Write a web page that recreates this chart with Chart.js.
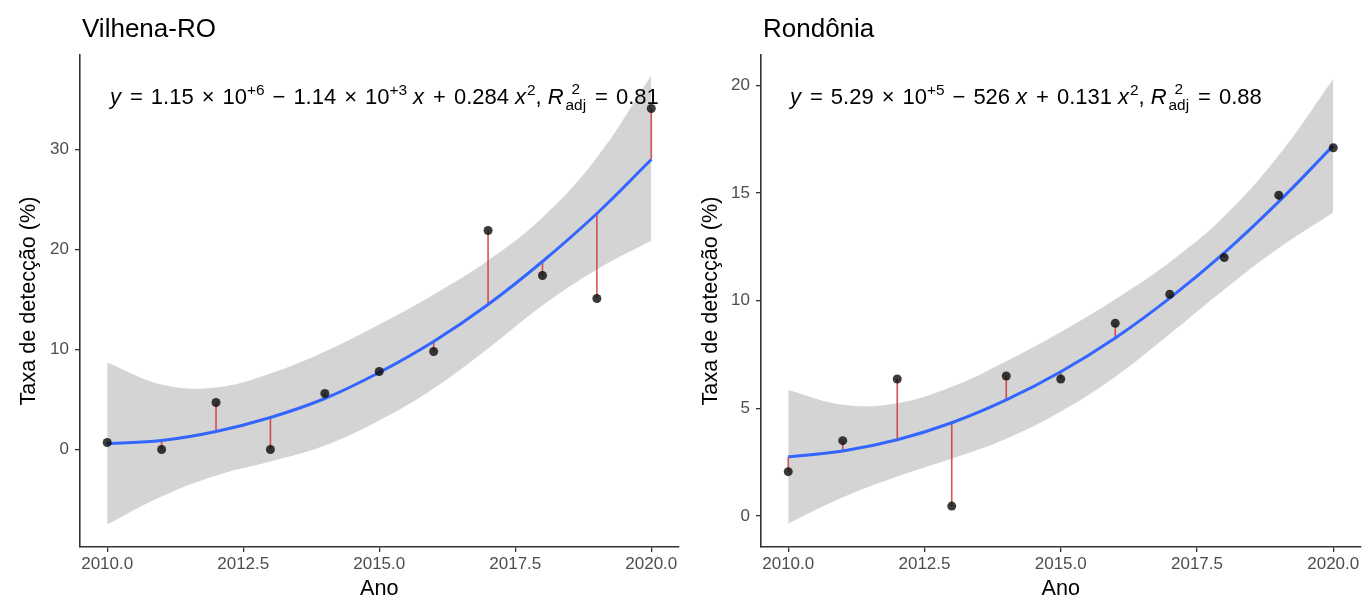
<!DOCTYPE html>
<html>
<head>
<meta charset="utf-8">
<script src="https://cdn.jsdelivr.net/npm/chart.js@4.4.1/dist/chart.umd.min.js"></script>
<style>
    html, body { margin: 0; padding: 0; background: #fff; }
    #wrap { position: relative; width: 1365px; height: 599px; }
    canvas { position: absolute; top: 0; }
</style>
</head>
<body>
<div id="wrap">
    <canvas id="vilhenaChart" width="683" height="599" style="left:0"></canvas>
    <canvas id="rondoniaChart" width="682" height="599" style="left:683px"></canvas>
</div>
<script>
// Dados
const anos = [2010, 2011, 2012, 2013, 2014, 2015, 2016, 2017, 2018, 2019, 2020];
const xTicks = [2010, 2012.5, 2015, 2017.5, 2020];

// Vilhena-RO
const vilhenaTaxa = [0.7, 0.0, 4.7, 0.0, 5.6, 7.8, 9.8, 21.9, 17.4, 15.1, 34.1];
const vilhenaAjuste = [0.6, 0.9, 1.8, 3.2, 5.1, 7.7, 10.8, 14.5, 18.8, 23.6, 29.0];
const vilhenaIcSup = [8.7, 6.5, 6.2, 7.6, 9.8, 12.5, 15.5, 18.9, 23.2, 29.2, 37.4];
const vilhenaIcInf = [-7.5, -4.7, -2.6, -1.2, 0.4, 2.9, 6.1, 10.1, 14.4, 18.0, 20.9];
const vilhenaYTicks = [0, 10, 20, 30];

// Rondônia
const rondoniaTaxa = [2.06, 3.5, 6.36, 0.46, 6.5, 6.36, 8.95, 10.3, 12.0, 14.9, 17.1];
const rondoniaAjuste = [2.75, 3.02, 3.54, 4.33, 5.39, 6.70, 8.27, 10.12, 12.22, 14.6, 17.2];
const rondoniaIcSup = [5.85, 5.17, 5.24, 6.0, 7.19, 8.55, 10.07, 11.79, 13.92, 16.75, 20.3];
const rondoniaIcInf = [-0.35, 0.87, 1.84, 2.66, 3.59, 4.85, 6.47, 8.45, 10.52, 12.45, 14.1];
const rondoniaYTicks = [0, 5, 10, 15, 20];

// Equações (texto)
const G = { gap: 8 };
const S = { gap: 6 };
const vilhenaEq = [
    { t: 'y', it: true }, G, { t: '=' }, G, { t: '1.15' }, G, { t: '×' }, G, { t: '10' }, { t: '+6', sup: true }, G,
    { t: '−' }, G, { t: '1.14' }, G, { t: '×' }, G, { t: '10' }, { t: '+3', sup: true }, S, { t: 'x', it: true }, G,
    { t: '+' }, G, { t: '0.284' }, S, { t: 'x', it: true }, { t: '2', sup: true }, { t: ',' }, S,
    { t: 'R', it: true }, { pilha: ['2', 'adj'] }, G, { t: '=' }, G, { t: '0.81' }
];
const rondoniaEq = [
    { t: 'y', it: true }, G, { t: '=' }, G, { t: '5.29' }, G, { t: '×' }, G, { t: '10' }, { t: '+5', sup: true }, G,
    { t: '−' }, G, { t: '526' }, S, { t: 'x', it: true }, G,
    { t: '+' }, G, { t: '0.131' }, S, { t: 'x', it: true }, { t: '2', sup: true }, { t: ',' }, S,
    { t: 'R', it: true }, { pilha: ['2', 'adj'] }, G, { t: '=' }, G, { t: '0.88' }
];

const FONTE = '"Liberation Sans", Arial, Helvetica, sans-serif';
Chart.defaults.font.family = FONTE;

// Desenha equação com sobrescritos
function desenhaEquacao(ctx, runs, x, y, size) {
    let cx = x;
    const small = size * 0.7;
    ctx.fillStyle = '#000';
    ctx.textBaseline = 'alphabetic';
    ctx.textAlign = 'left';
    runs.forEach(r => {
        if (r.gap) { cx += r.gap; return; }
        if (r.pilha) {
            ctx.font = small + 'px ' + FONTE;
            const w1 = ctx.measureText(r.pilha[0]).width;
            const w2 = ctx.measureText(r.pilha[1]).width;
            const w = Math.max(w1, w2);
            ctx.fillText(r.pilha[0], cx + 1 + (w - w1) / 2, y - size * 0.45);
            ctx.fillText(r.pilha[1], cx + 1, y + size * 0.25);
            cx += w + 2;
            return;
        }
        const s = r.sup ? small : size;
        ctx.font = (r.it ? 'italic ' : '') + s + 'px ' + FONTE;
        const dy = r.sup ? -size * 0.42 : 0;
        ctx.fillText(r.t, cx, y + dy);
        cx += ctx.measureText(r.t).width + (r.it ? 1 : 0);
    });
}

const textoPainel = {
    id: 'textoPainel',
    afterDraw(chart, args, opts) {
        const { ctx, chartArea } = chart;
        ctx.save();
        ctx.fillStyle = '#000';
        ctx.font = '26px ' + FONTE;
        ctx.textBaseline = 'alphabetic';
        ctx.fillText(opts.titulo, chartArea.left + 2, 37);
        desenhaEquacao(ctx, opts.equacao, chartArea.left + opts.eqX, chartArea.top + 49, 22);
        ctx.restore();
    }
};

function pontos(vals) {
    return anos.map((a, i) => ({ x: a, y: vals[i] }));
}

function criaGrafico(id, cfg) {
    const ctx = document.getElementById(id).getContext('2d');
    const residuos = anos.map((a, i) => ({
        data: [{ x: a, y: cfg.taxa[i] }, { x: a, y: cfg.ajuste[i] }],
        borderColor: 'rgba(205, 55, 55, 0.85)',
        borderWidth: 1.6,
        pointRadius: 0,
        fill: false,
        order: 2
    }));
    return new Chart(ctx, {
        type: 'line',
        data: {
            datasets: [
                {
                    label: 'Taxa',
                    data: pontos(cfg.taxa),
                    showLine: false,
                    pointRadius: 4.5,
                    pointBackgroundColor: 'rgba(10, 10, 10, 0.8)',
                    pointBorderWidth: 0,
                    order: 0
                },
                {
                    label: 'Ajuste',
                    data: pontos(cfg.ajuste),
                    borderColor: '#3366FF',
                    borderWidth: 3,
                    pointRadius: 0,
                    tension: 0.4,
                    fill: false,
                    order: 1
                },
                {
                    label: 'IC inf',
                    data: pontos(cfg.icInf),
                    borderWidth: 0,
                    pointRadius: 0,
                    tension: 0.4,
                    fill: false,
                    order: 4
                },
                {
                    label: 'IC sup',
                    data: pontos(cfg.icSup),
                    borderWidth: 0,
                    pointRadius: 0,
                    tension: 0.4,
                    fill: '-1',
                    backgroundColor: '#d4d4d4',
                    order: 3
                },
                ...residuos
            ]
        },
        options: {
            responsive: false,
            animation: false,
            layout: { padding: { top: 55, left: 0, right: 3, bottom: 0 } },
            plugins: {
                legend: { display: false },
                tooltip: { enabled: false },
                textoPainel: { titulo: cfg.titulo, equacao: cfg.equacao, eqX: cfg.eqX }
            },
            scales: {
                x: {
                    type: 'linear',
                    min: 2009.5,
                    max: 2020.5,
                    afterBuildTicks: s => { s.ticks = xTicks.map(v => ({ value: v })); },
                    afterFit: s => { s.height = 52; },
                    ticks: {
                        callback: v => Number(v).toFixed(1),
                        color: '#4d4d4d',
                        font: { size: 17 },
                        padding: 2,
                        autoSkip: false,
                        maxRotation: 0
                    },
                    grid: { drawOnChartArea: false, drawTicks: true, tickLength: 5, color: '#333', lineWidth: 1.3 },
                    border: { display: true, color: '#333', width: 1.6 },
                    title: {
                        display: true,
                        text: 'Ano',
                        color: '#000',
                        font: { size: 21.6, lineHeight: 1 },
                        padding: { top: 0, bottom: -1 }
                    }
                },
                y: {
                    min: cfg.yMin,
                    max: cfg.yMax,
                    afterBuildTicks: s => { s.ticks = cfg.yTicks.map(v => ({ value: v })); },
                    afterFit: s => { s.width = cfg.yWidth; },
                    ticks: {
                        callback: v => String(v),
                        color: '#4d4d4d',
                        font: { size: 17 },
                        padding: 6
                    },
                    grid: { drawOnChartArea: false, drawTicks: true, tickLength: 5, color: '#333', lineWidth: 1.3 },
                    border: { display: true, color: '#333', width: 1.6 },
                    title: {
                        display: true,
                        text: 'Taxa de detecção (%)',
                        color: '#000',
                        font: { size: 21.6, lineHeight: 1.2 },
                        padding: { top: cfg.yTitlePad, bottom: 0 }
                    }
                }
            }
        },
        plugins: [textoPainel]
    });
}

document.addEventListener('DOMContentLoaded', function() {
    criaGrafico('vilhenaChart', {
        titulo: 'Vilhena-RO',
        taxa: vilhenaTaxa,
        ajuste: vilhenaAjuste,
        icSup: vilhenaIcSup,
        icInf: vilhenaIcInf,
        yMin: -9.75,
        yMax: 39.45,
        yTicks: vilhenaYTicks,
        yWidth: 80,
        yTitlePad: 16,
        equacao: vilhenaEq,
        eqX: 30
    });
    criaGrafico('rondoniaChart', {
        titulo: 'Rondônia',
        taxa: rondoniaTaxa,
        ajuste: rondoniaAjuste,
        icSup: rondoniaIcSup,
        icInf: rondoniaIcInf,
        yMin: -1.44,
        yMax: 21.41,
        yTicks: rondoniaYTicks,
        yWidth: 78,
        yTitlePad: 15,
        equacao: rondoniaEq,
        eqX: 29
    });
});
</script>
</body>
</html>
